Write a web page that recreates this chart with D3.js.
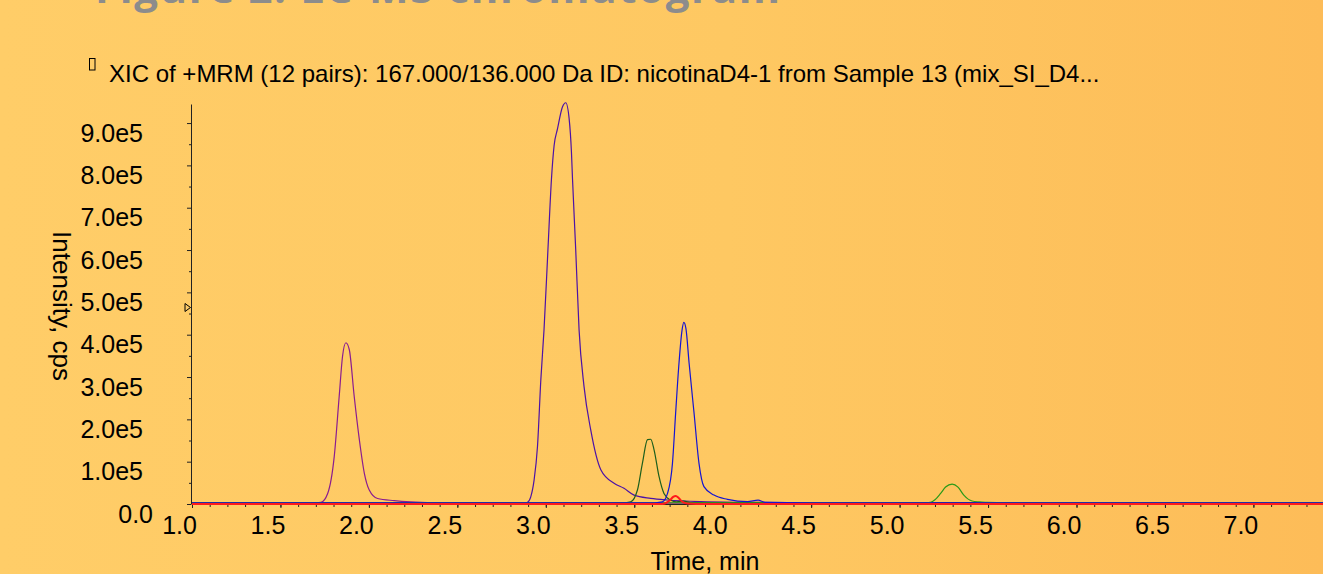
<!DOCTYPE html>
<html>
<head>
<meta charset="utf-8">
<script src="https://cdn.jsdelivr.net/npm/d3@7"></script>
<style>
  html, body { margin: 0; padding: 0; overflow: hidden; }
  text { font-family: "Liberation Sans", Arial, sans-serif; }
</style>
</head>
<body>
<script>
'use strict';

// header texts
const pageTitle = 'Figure 2. LC-MS chromatogram';
const plotTitle = 'XIC of +MRM (12 pairs): 167.000/136.000 Da ID: nicotinaD4-1 from Sample 13 (mix_SI_D4...';
const xTitle = 'Time, min';
const yTitle = 'Intensity, cps';

// axis ticks
const xMajor = [1.0, 1.5, 2.0, 2.5, 3.0, 3.5, 4.0, 4.5, 5.0, 5.5, 6.0, 6.5, 7.0];
const xLabels = ['1.0', '1.5', '2.0', '2.5', '3.0', '3.5', '4.0', '4.5', '5.0', '5.5', '6.0', '6.5', '7.0'];
const yMajor = [0, 1e5, 2e5, 3e5, 4e5, 5e5, 6e5, 7e5, 8e5, 9e5];
const yLabels = ['0.0', '1.0e5', '2.0e5', '3.0e5', '4.0e5', '5.0e5', '6.0e5', '7.0e5', '8.0e5', '9.0e5'];

// traces, time in min, intensity in 1e5 cps
const purpleT = [1.0, 1.4, 1.70, 1.729, 1.767, 1.804, 1.832, 1.851, 1.870, 1.889, 1.917, 1.946, 1.974, 2.002, 2.049, 2.143, 2.237, 2.367, 2.6, 3.0, 4.0, 5.0, 6.0, 7.4];
const purpleI = [0.03, 0.03, 0.03, 0.04, 0.25, 1.12, 2.54, 3.49, 3.81, 3.65, 2.54, 1.52, 0.73, 0.33, 0.13, 0.08, 0.05, 0.03, 0.02, 0.02, 0.02, 0.02, 0.02, 0.02];

const indigoT = [1.0, 2.0, 2.6, 2.88, 2.897, 2.915, 2.934, 2.953, 2.972, 2.990, 3.012, 3.032, 3.047, 3.066, 3.094, 3.113, 3.132, 3.145, 3.151, 3.169, 3.188, 3.216, 3.254, 3.311, 3.386, 3.442, 3.499, 3.593, 3.688, 3.876, 4.062, 4.5, 5.5, 7.4];
const indigoI = [0.02, 0.02, 0.02, 0.02, 0.04, 0.17, 0.57, 1.36, 2.94, 4.12, 6.0, 7.68, 8.47, 8.86, 9.38, 9.48, 9.10, 8.31, 7.68, 6.02, 4.12, 2.78, 1.75, 0.81, 0.49, 0.37, 0.21, 0.135, 0.095, 0.055, 0.04, 0.03, 0.02, 0.02];

const darkGreenT = [1.0, 2.0, 3.0, 3.45, 3.48, 3.518, 3.546, 3.575, 3.593, 3.612, 3.640, 3.668, 3.706, 3.74, 3.78, 3.82, 4.0, 5.0, 6.0, 7.4];
const darkGreenI = [0.03, 0.03, 0.03, 0.03, 0.05, 0.33, 0.96, 1.52, 1.53, 1.28, 0.65, 0.25, 0.09, 0.05, 0.07, 0.03, 0.03, 0.03, 0.03, 0.03];

const blueT = [1.0, 2.0, 3.0, 3.62, 3.659, 3.688, 3.716, 3.734, 3.753, 3.770, 3.780, 3.792, 3.810, 3.838, 3.866, 3.894, 3.951, 4.027, 4.14, 4.20, 4.24, 4.5, 5.5, 7.4];
const blueI = [0.03, 0.03, 0.03, 0.03, 0.05, 0.25, 0.96, 2.15, 3.33, 4.10, 4.29, 4.15, 3.33, 2.15, 0.96, 0.41, 0.21, 0.11, 0.055, 0.09, 0.04, 0.03, 0.03, 0.03];

const redT = [1.0, 3.0, 3.66, 3.70, 3.72, 3.735, 3.75, 3.77, 3.80, 3.85, 5.0, 7.4];
const redI = [0.0, 0.0, 0.0, 0.08, 0.17, 0.19, 0.15, 0.06, 0.01, 0.0, 0.0, 0.0];

const greenT = [1.0, 3.0, 5.0, 5.15, 5.175, 5.20, 5.232, 5.26, 5.297, 5.33, 5.363, 5.41, 5.45, 5.495, 5.6, 6.5, 7.4];
const greenI = [0.03, 0.03, 0.03, 0.03, 0.04, 0.10, 0.25, 0.40, 0.47, 0.40, 0.21, 0.07, 0.05, 0.04, 0.03, 0.03, 0.03];

const traces = [
  { t: indigoT, i: indigoI, color: '#4c12a6', w: 1.2 },
  { t: purpleT, i: purpleI, color: '#8a1c90', w: 1.2 },
  { t: darkGreenT, i: darkGreenI, color: '#1c5e1c', w: 1.2 },
  { t: greenT, i: greenI, color: '#2a9a18', w: 1.2 },
  { t: blueT, i: blueI, color: '#1414d2', w: 1.2 },
  { t: redT, i: redI, color: '#ff1a1a', w: 2 },
];

const W = 1323, H = 574;

const svg = d3.select('body')
  .append('svg')
  .attr('width', W)
  .attr('height', H);

const grad = svg.append('defs')
  .append('linearGradient')
  .attr('id', 'bg')
  .attr('x1', '0%').attr('x2', '100%')
  .attr('y1', '0%').attr('y2', '0%');
grad.append('stop').attr('offset', '0%').attr('stop-color', '#ffcd68');
grad.append('stop').attr('offset', '55%').attr('stop-color', '#fec862');
grad.append('stop').attr('offset', '100%').attr('stop-color', '#fdbc58');

svg.append('rect')
  .attr('width', W)
  .attr('height', H)
  .attr('fill', 'url(#bg)');

// slide heading, mostly cut off at the top
svg.append('text')
  .attr('x', 95)
  .attr('y', 3)
  .attr('textLength', 685)
  .style('font-family', '"Open Sans", sans-serif')
  .style('font-weight', 'bold')
  .style('font-size', '42px')
  .style('fill', '#8c8c8c')
  .text(pageTitle);

const x = d3.scaleLinear().domain([1.0, 7.4]).range([192, 192 + 6.4 * 176.9]);
const y = d3.scaleLinear().domain([0, 9.45e5]).range([504, 104]);

// plot title with the little box glyph
svg.append('rect')
  .attr('x', 89.5).attr('y', 58.5)
  .attr('width', 5.5).attr('height', 11.5)
  .attr('fill', 'none')
  .attr('stroke', '#000')
  .attr('stroke-width', 1);

svg.append('text')
  .attr('x', 109)
  .attr('y', 82)
  .style('font-size', '24px')
  .style('fill', '#000')
  .text(plotTitle);

// y axis
const yAxis = svg.append('g')
  .attr('transform', 'translate(191,0)')
  .call(d3.axisLeft(y).tickValues(yMajor).tickSize(4).tickSizeOuter(0)
    .tickFormat((d, i) => yLabels[i]));

yAxis.selectAll('text')
  .attr('x', (d, i) => i === 0 ? -38 : -48)
  .attr('dy', 18)
  .style('font-size', '25px')
  .style('fill', '#000');

svg.append('g')
  .attr('transform', 'translate(191,0)')
  .call(d3.axisLeft(y).tickValues(d3.range(0.5e5, 9.3e5, 1e5)).tickSize(2).tickSizeOuter(0).tickFormat(''))
  .select('.domain').remove();

// x axis
const xAxis = svg.append('g')
  .attr('transform', 'translate(0,504)')
  .call(d3.axisBottom(x).tickValues(xMajor).tickSize(4).tickSizeOuter(0)
    .tickFormat((d, i) => xLabels[i]));

xAxis.selectAll('text')
  .attr('dx', -13)
  .attr('y', 30)
  .attr('dy', 0)
  .style('font-size', '25px')
  .style('fill', '#000');

svg.append('g')
  .attr('transform', 'translate(0,504)')
  .call(d3.axisBottom(x).tickValues(d3.range(1.1, 7.4, 0.1)).tickSize(3).tickSizeOuter(0).tickFormat(''))
  .select('.domain').remove();

svg.selectAll('.domain').attr('stroke', '#222');
svg.selectAll('.tick line').attr('stroke', '#222');

// axis titles
svg.append('text')
  .attr('x', 705)
  .attr('y', 570)
  .attr('text-anchor', 'middle')
  .style('font-size', '25px')
  .text(xTitle);

svg.append('text')
  .attr('transform', 'translate(53,306) rotate(90)')
  .attr('text-anchor', 'middle')
  .style('font-size', '26px')
  .text(yTitle);

// small marker on the y axis
svg.append('path')
  .attr('d', 'M185,303.5 L190.5,307.5 L185,311.5 Z')
  .attr('fill', 'none')
  .attr('stroke', '#000')
  .attr('stroke-width', 1);

// traces
const line = d3.line()
  .x(d => x(d[0]))
  .y(d => y(d[1] * 1e5))
  .curve(d3.curveMonotoneX);

svg.append('g')
  .selectAll('path')
  .data(traces)
  .enter()
  .append('path')
  .attr('d', tr => line(tr.t.map((t, k) => [t, tr.i[k]])))
  .attr('fill', 'none')
  .attr('stroke', tr => tr.color)
  .attr('stroke-width', tr => tr.w);
</script>
</body>
</html>
